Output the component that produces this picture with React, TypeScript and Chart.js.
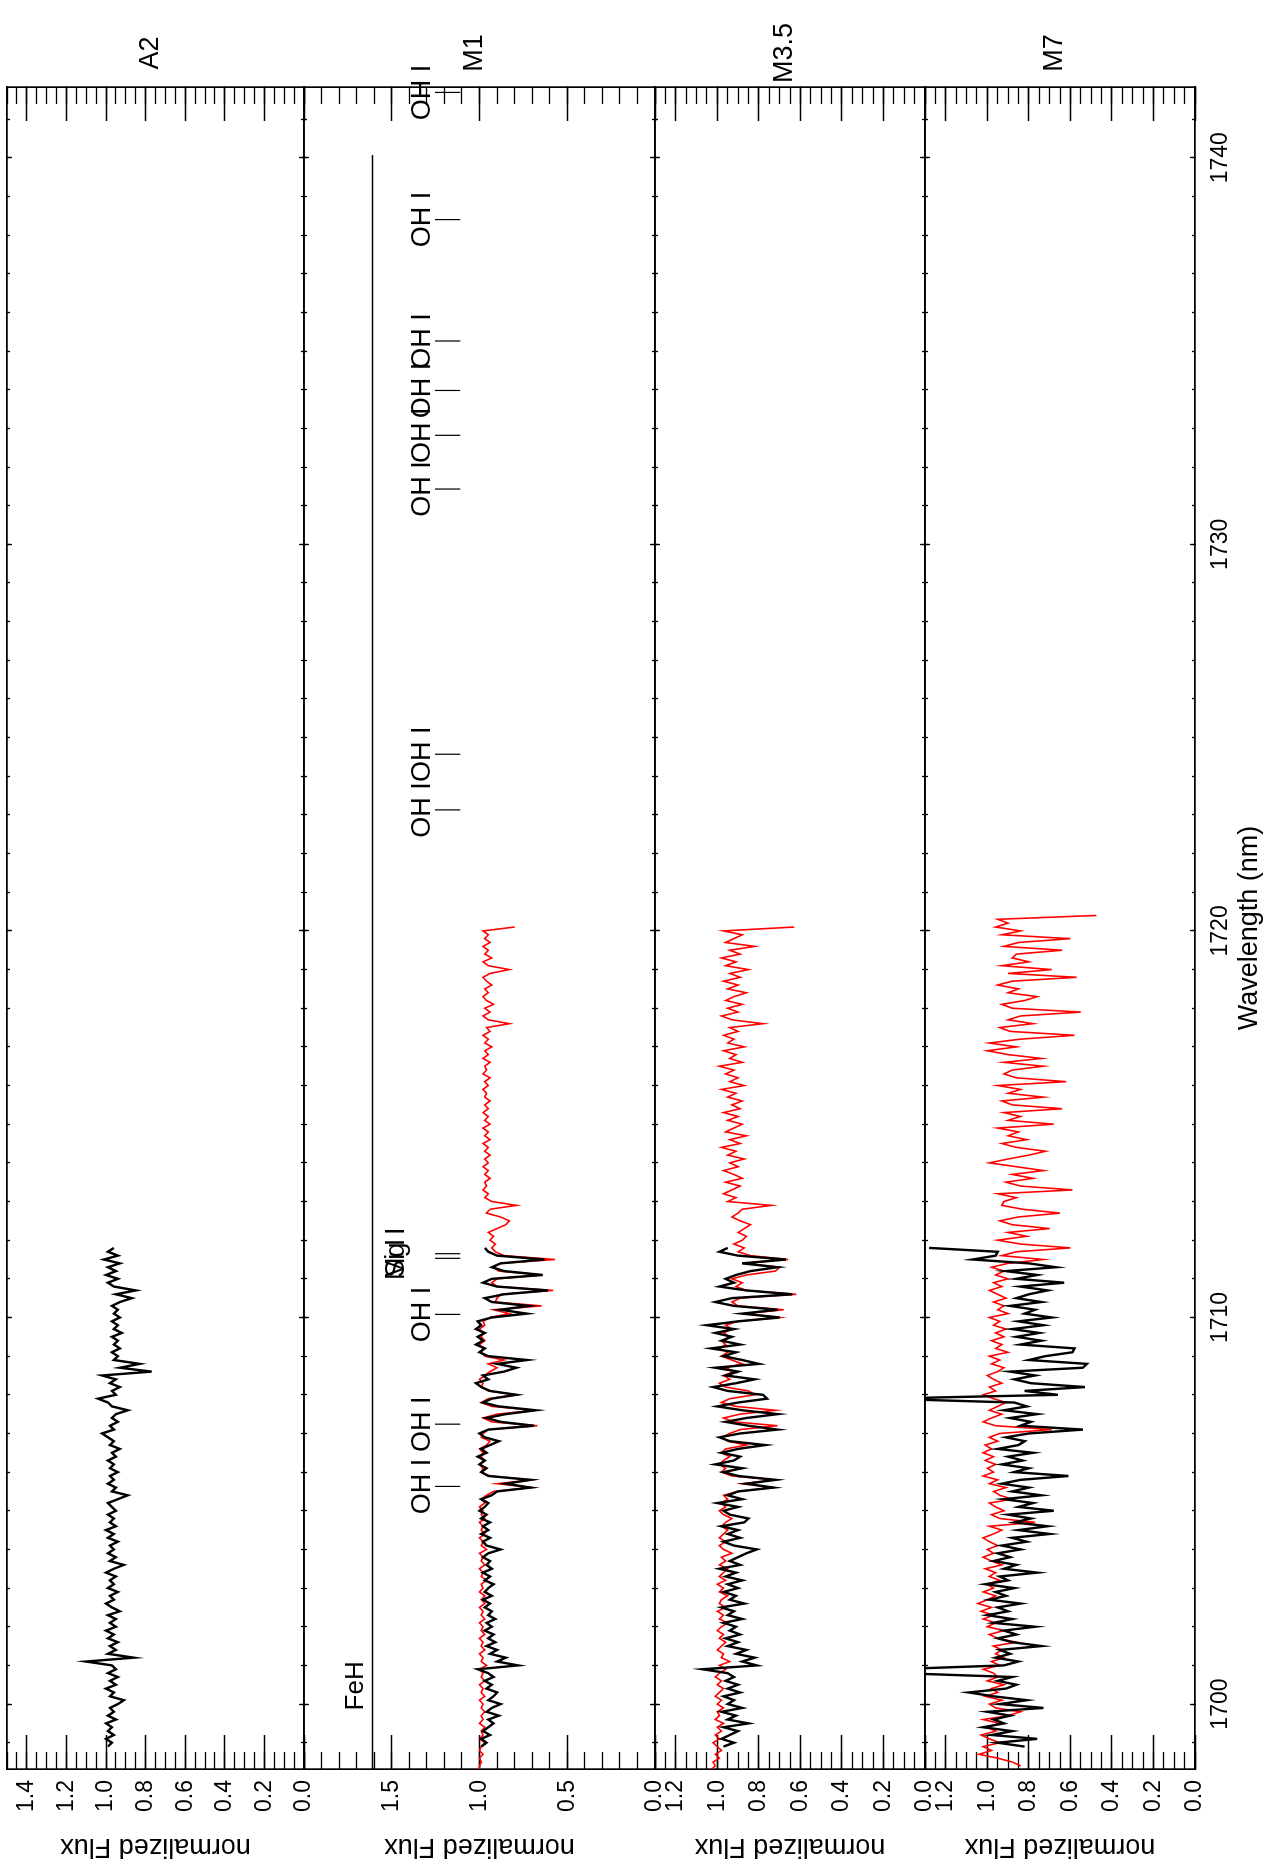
import React, { useEffect, useRef } from 'react';
import { Chart, registerables } from 'chart.js';

Chart.register(...registerables);

const FONT = "'Liberation Sans', Arial, Helvetica, sans-serif";
Chart.defaults.font.family = FONT;
Chart.defaults.color = '#000';

// ---------- axes ----------
const WL_MIN = 1698.32;
const WL_MAX = 1741.83;
const WL_MAJOR = [1700, 1710, 1720, 1730, 1740];
const A2_TICKS = [0, 0.2, 0.4, 0.6, 0.8, 1.0, 1.2, 1.4];
const M1_TICKS = [0, 0.5, 1.0, 1.5];
const M_TICKS = [0, 0.2, 0.4, 0.6, 0.8, 1.0, 1.2];

// ---------- spectra (0.1 nm sampling) ----------
const STEP = 0.1;
const OBS_START = 1698.9;
const MODEL_START = 1698.3;
const M7_MODEL_START = 1698.4;

const A2_OBS = [
  0.99, 0.97, 1.00, 0.96, 0.99, 0.97, 1.00, 0.95, 0.99, 0.96,
  0.98, 0.94, 0.91, 0.98, 0.96, 1.00, 0.95, 0.98, 0.94, 0.99,
  0.95, 0.97, 1.10, 0.86, 0.99, 0.95, 0.98, 0.94, 0.99, 0.96,
  1.00, 0.95, 0.98, 0.95, 0.99, 0.93, 0.97, 1.00, 0.96, 0.98,
  0.94, 0.99, 0.96, 0.98, 0.95, 1.00, 0.96, 0.91, 0.98, 0.95,
  0.99, 0.96, 0.98, 0.94, 0.99, 0.96, 1.00, 0.95, 0.98, 0.96,
  0.99, 0.95, 0.97, 0.99, 0.94, 0.89, 0.97, 0.95, 0.99, 0.96,
  0.98, 0.94, 0.98, 0.96, 0.99, 0.95, 0.97, 0.93, 0.98, 0.96,
  0.99, 1.02, 0.96, 0.98, 0.94, 0.97, 0.95, 0.89, 0.97, 0.99,
  1.04, 0.95, 0.97, 0.93, 0.98, 0.95, 1.02, 0.77, 0.93, 0.83,
  0.96, 0.94, 0.97, 0.93, 0.96, 0.94, 0.97, 0.92, 0.96, 0.94,
  0.97, 0.93, 0.96, 0.94, 0.97, 0.93, 0.87, 0.95, 0.85, 0.96,
  0.99, 0.94, 1.00, 0.95, 0.99, 0.93, 1.01, 0.94, 0.99, 0.96,
];

const M1_OBS = [
  0.99, 0.96, 0.99, 0.94, 0.98, 0.95, 0.92, 0.95, 0.89, 0.96,
  0.93, 0.88, 0.95, 0.92, 0.90, 0.96, 0.93, 0.97, 0.92, 0.95,
  1.01, 0.78, 0.90, 0.85, 0.94, 0.90, 0.96, 0.91, 0.95, 0.92,
  0.97, 0.93, 0.96, 0.91, 0.95, 0.93, 0.97, 0.94, 0.98, 0.93,
  0.97, 0.95, 0.92, 0.97, 0.94, 0.98, 0.93, 0.96, 0.94, 0.98,
  0.95, 0.88, 0.96, 0.98, 0.94, 0.99, 0.95, 0.98, 0.94, 0.99,
  0.96, 1.00, 0.97, 0.95, 0.99, 0.93, 0.90, 0.71, 0.85, 0.71,
  0.95, 0.99, 0.96, 1.00, 0.97, 1.01, 0.96, 0.99, 0.94, 0.89,
  0.97, 1.00, 0.95, 0.69, 0.88, 0.96, 0.85, 0.68, 0.89, 0.98,
  0.93, 0.79, 0.94, 0.99, 1.02, 0.95, 0.98, 0.86, 0.79, 0.90,
  0.73, 0.95, 1.00, 0.97, 1.02, 0.98, 1.01, 0.97, 1.02, 0.99,
  1.01, 0.93, 0.73, 0.88, 0.72, 0.93, 0.97, 0.86, 0.61, 0.90,
  0.98, 0.93, 0.64, 0.86, 0.93, 0.88, 0.63, 0.90, 0.95, 0.97,
];

const M1_MODEL = [
  1.00, 1.00, 0.99, 1.00, 0.98, 1.00, 0.99, 0.97, 1.00, 0.98,
  0.99, 0.97, 1.00, 0.98, 0.99, 0.97, 0.99, 0.98, 1.00, 0.97,
  0.99, 0.98, 1.00, 0.97, 0.99, 0.98, 1.00, 0.96, 0.99, 0.98,
  1.00, 0.97, 0.99, 0.98, 1.00, 0.97, 0.99, 0.98, 1.00, 0.97,
  0.99, 0.98, 1.00, 0.97, 0.99, 0.97, 1.00, 0.98, 0.99, 0.96,
  0.99, 0.98, 1.00, 0.97, 0.99, 0.98, 1.00, 0.96, 0.99, 0.98,
  1.00, 0.97, 0.99, 0.98, 1.00, 0.97, 0.99, 0.98, 1.00, 0.97,
  0.99, 0.96, 0.92, 0.70, 0.90, 0.70, 0.94, 0.99, 0.98, 1.00,
  0.97, 0.99, 0.98, 1.00, 0.96, 0.94, 0.99, 0.98, 0.95, 0.67,
  0.93, 0.98, 0.90, 0.68, 0.93, 0.99, 0.95, 0.79, 0.95, 0.99,
  0.98, 1.00, 0.97, 0.94, 0.90, 0.95, 0.86, 0.97, 0.99, 0.98,
  1.00, 0.97, 0.99, 0.98, 1.00, 0.97, 0.98, 0.94, 0.83, 0.92,
  0.645, 0.91, 0.90, 0.88, 0.58, 0.90, 0.93, 0.90, 0.64, 0.89,
  0.92, 0.88, 0.57, 0.86, 0.91, 0.93, 0.91, 0.94, 0.92, 0.95,
  0.90, 0.85, 0.83, 0.88, 0.96, 0.94, 0.79, 0.93, 0.97, 0.95,
  0.98, 0.96, 0.97, 0.94, 0.97, 0.95, 0.98, 0.95, 0.97, 0.94,
  0.97, 0.95, 0.98, 0.94, 0.97, 0.95, 0.98, 0.94, 0.97, 0.95,
  0.98, 0.95, 0.97, 0.94, 0.97, 0.96, 0.98, 0.95, 0.97, 0.94,
  0.98, 0.96, 0.97, 0.94, 0.98, 0.95, 0.97, 0.93, 0.97, 0.95,
  0.98, 0.94, 0.96, 0.83, 0.95, 0.98, 0.94, 0.97, 0.92, 0.96,
  0.98, 0.95, 0.97, 0.93, 0.96, 0.98, 0.94, 0.83, 0.95, 0.98,
  0.93, 0.97, 0.95, 0.98, 0.94, 0.97, 0.95, 0.98, 0.80,
];

const M35_OBS = [
  0.97, 0.92, 0.98, 0.94, 0.90, 0.97, 0.85, 0.95, 0.91, 0.98,
  0.88, 0.95, 0.92, 0.97, 0.89, 0.95, 0.90, 0.96, 0.92, 0.95,
  1.07, 0.81, 0.88, 0.82, 0.91, 0.86, 0.95, 0.90, 0.96, 0.89,
  0.94, 0.91, 0.97, 0.88, 0.95, 0.92, 0.98, 0.87, 0.94, 0.91,
  0.97, 0.90, 0.95, 0.88, 0.96, 0.91, 0.99, 0.89, 0.94, 0.90,
  0.86, 0.81, 0.92, 0.97, 0.89, 0.95, 0.90, 0.98, 0.87, 0.85,
  0.94, 0.97, 0.90, 1.00, 0.88, 0.95, 0.90, 0.73, 0.86, 0.72,
  0.90, 0.97, 0.88, 1.01, 0.92, 0.89, 0.98, 0.90, 0.77, 0.94,
  0.99, 0.89, 0.71, 0.85, 0.96, 0.86, 0.71, 0.88, 1.00, 0.90,
  0.76, 0.78, 0.95, 1.02, 0.91, 0.82, 0.96, 0.90, 1.01, 0.80,
  0.88, 0.97, 0.91, 1.03, 0.89, 0.98, 0.93, 1.01, 0.92, 1.05,
  0.90, 0.70, 0.88, 0.71, 0.92, 1.01, 0.93, 0.64, 0.86, 0.99,
  0.92, 0.96, 0.91, 0.84, 0.71, 0.88, 0.67, 0.90, 0.99, 0.95,
];

const M35_MODEL = [
  1.03, 1.01, 1.02, 0.99, 1.01, 0.98, 1.00, 1.02, 0.99, 1.01,
  0.98, 1.00, 0.97, 1.01, 0.99, 1.00, 0.97, 1.00, 0.98, 1.01,
  0.99, 0.97, 1.00, 0.98, 1.01, 0.99, 0.96, 0.99, 0.94, 0.98,
  0.97, 1.00, 0.98, 0.96, 0.99, 0.97, 1.00, 0.98, 0.95, 0.99,
  0.97, 1.00, 0.96, 0.99, 0.98, 0.95, 0.99, 0.97, 1.00, 0.96,
  0.99, 0.97, 0.95, 0.99, 0.96, 0.98, 0.93, 0.97, 0.99, 0.96,
  0.99, 0.97, 0.95, 0.98, 0.96, 0.93, 0.97, 0.99, 0.96, 0.98,
  0.95, 0.97, 0.90, 0.73, 0.88, 0.72, 0.93, 0.98, 0.96, 0.99,
  0.97, 0.94, 0.98, 0.96, 0.86, 0.95, 0.98, 0.94, 0.89, 0.71,
  0.92, 0.97, 0.89, 0.72, 0.91, 0.98, 0.94, 0.82, 0.85, 0.96,
  0.99, 0.94, 0.97, 0.92, 0.96, 0.88, 0.93, 0.98, 0.95, 0.99,
  0.96, 0.98, 0.94, 0.97, 0.93, 0.96, 0.90, 0.70, 0.87, 0.68,
  0.90, 0.93, 0.89, 0.62, 0.86, 0.91, 0.88, 0.93, 0.86, 0.72,
  0.70, 0.87, 0.66, 0.84, 0.90, 0.87, 0.92, 0.88, 0.86, 0.90,
  0.87, 0.84, 0.89, 0.93, 0.90, 0.88, 0.74, 0.95, 0.91, 0.97,
  0.93, 0.89, 0.96, 0.88, 0.92, 0.97, 0.90, 0.94, 0.87, 0.95,
  0.91, 0.98, 0.89, 0.94, 0.86, 0.96, 0.92, 0.88, 0.95, 0.90,
  0.97, 0.89, 0.93, 0.88, 0.95, 0.91, 0.98, 0.87, 0.94, 0.90,
  0.96, 0.92, 0.99, 0.88, 0.94, 0.91, 0.97, 0.87, 0.95, 0.92,
  0.97, 0.90, 0.94, 0.78, 0.93, 0.98, 0.90, 0.95, 0.88, 0.96,
  0.92, 0.86, 0.95, 0.90, 0.97, 0.89, 0.94, 0.85, 0.96, 0.91,
  0.98, 0.89, 0.94, 0.82, 0.96, 0.92, 0.88, 0.97, 0.63,
];

const M7_OBS = [
  0.82, 0.95, 0.76, 0.98, 0.88, 1.02, 0.92, 0.97, 0.89, 1.00,
  0.73, 0.94, 0.81, 0.97, 1.09, 0.91, 0.86, 0.95, 0.88, 1.42,
  1.45, 0.92, 0.85, 0.96, 0.89, 0.94, 0.74, 0.88, 0.95, 0.86,
  0.92, 0.77, 0.97, 0.88, 1.00, 0.90, 0.95, 0.84, 0.99, 0.91,
  0.96, 0.87, 1.01, 0.90, 0.94, 0.76, 0.92, 0.86, 0.97, 0.89,
  0.95, 0.84, 0.93, 0.81, 0.88, 0.70, 0.85, 0.71, 0.87, 0.79,
  0.90, 0.68, 0.85, 0.78, 0.92, 0.74, 0.88, 0.80, 0.93, 0.84,
  0.61, 0.87, 0.80, 0.93, 0.83, 0.90, 0.78, 0.95, 0.85, 0.82,
  0.91, 0.80, 0.54, 0.84, 0.79, 0.89, 0.76, 0.92, 0.81, 0.87,
  1.50, 0.66, 0.82, 0.53, 0.79, 0.87, 0.77, 0.89, 0.54, 0.52,
  0.80, 0.72, 0.59, 0.58, 0.84, 0.74, 0.86, 0.75, 0.88, 0.73,
  0.85, 0.69, 0.82, 0.77, 0.89, 0.74, 0.86, 0.80, 0.71, 0.84,
  0.63, 0.86, 0.76, 0.91, 0.67, 0.80, 1.07, 0.96, 0.95, 1.28,
];

const M7_MODEL = [
  0.84, 0.88, 0.95, 1.04, 0.98, 1.02, 0.94, 0.99, 1.03, 0.96,
  1.00, 0.94, 1.02, 0.90, 0.84, 0.96, 0.99, 0.93, 1.01, 0.95,
  0.98, 0.92, 1.00, 0.95, 0.97, 1.02, 0.94, 0.98, 0.92, 0.96,
  0.93, 0.97, 0.86, 0.95, 0.99, 0.92, 1.00, 0.96, 1.02, 0.97,
  1.03, 0.98, 1.045, 1.00, 0.96, 1.02, 0.97, 1.00, 0.94, 0.99,
  0.96, 1.01, 0.93, 0.98, 1.02, 0.97, 1.00, 0.95, 0.99, 1.02,
  0.97, 0.93, 0.99, 0.77, 0.94, 0.98, 0.92, 0.96, 0.99, 0.88,
  0.94, 0.97, 0.91, 0.99, 0.95, 1.02, 0.97, 1.00, 0.96, 1.01,
  0.97, 1.02, 0.98, 1.01, 0.95, 0.99, 0.94, 0.69, 0.96, 1.02,
  0.98, 0.93, 0.99, 0.95, 0.91, 0.97, 1.02, 0.96, 0.99, 0.93,
  0.97, 1.00, 0.95, 0.92, 0.98, 0.94, 0.99, 0.90, 0.96, 0.93,
  0.98, 0.92, 0.96, 0.91, 0.97, 0.94, 0.99, 0.90, 0.95, 0.92,
  0.97, 0.91, 0.95, 0.99, 0.93, 0.97, 0.90, 0.96, 0.92, 0.98,
  0.90, 0.73, 0.93, 0.86, 0.60, 0.84, 0.95, 0.81, 0.90, 0.70,
  0.88, 0.94, 0.85, 0.65, 0.83, 0.93, 0.92, 0.86, 0.95, 0.59,
  0.84, 0.91, 0.78, 0.88, 0.73, 0.86, 0.99, 0.90, 0.80, 0.72,
  0.86, 0.93, 0.81, 0.90, 0.85, 0.95, 0.68, 0.90, 0.84, 0.92,
  0.64, 0.88, 0.93, 0.73, 0.90, 0.84, 0.95, 0.62, 0.86, 0.92,
  0.88, 0.73, 0.92, 0.74, 0.90, 1.00, 0.86, 0.99, 0.84, 0.58,
  0.89, 0.94, 0.78, 0.90, 0.84, 0.55, 0.88, 0.93, 0.82, 0.76,
  0.90, 0.85, 0.95, 0.88, 0.57, 0.90, 0.69, 0.93, 0.80, 0.88,
  0.86, 0.64, 0.92, 0.85, 0.60, 0.93, 0.84, 0.96, 0.90, 0.95,
  0.475,
];

// ---------- line identifications (M1 panel) ----------
const OH_LINES = [1705.63, 1707.24, 1710.08, 1723.13, 1724.57, 1731.43, 1732.82, 1733.98, 1735.26, 1738.4, 1741.69];
const MG_LINES = [1711.53, 1711.65];
const MG_LABELS = ['Si I', 'Mg I'];
const MARK_LO = 1.11;
const MARK_HI = 1.254;
const OH_LABEL_FLUX = 1.282;
const MG_LABEL_FLUX = 1.43;
const FEH_FLUX = 1.61;
const FEH_RANGE = [1697.0, 1740.07];
const FEH_LABEL = { wl: 1700.47, flux: 1.664 };

// ---------- helpers ----------
function series(start: number, values: number[]) {
  return values.map((v, i) => ({ x: Math.round((start + i * STEP) * 100) / 100, y: v }));
}
function minorTicks(max: number, step: number) {
  const out: number[] = [];
  const n = Math.round(max / step);
  for (let i = 0; i <= n; i++) out.push(Math.round(i * step * 1000) / 1000);
  return out;
}
const WL_MINOR: number[] = [];
for (let w = 1699; w <= 1741; w++) WL_MINOR.push(w);

const setTicks = (vals: number[]) => (s: any) => {
  s.ticks = vals.map((v) => ({ value: v }));
};
const fixW = (w: number) => (s: any) => {
  s.width = w;
  s.paddingTop = 0; s.paddingBottom = 0; s.paddingLeft = 0; s.paddingRight = 0;
};
const fixH = (h: number) => (s: any) => {
  s.height = h;
  s.paddingTop = 0; s.paddingBottom = 0; s.paddingLeft = 0; s.paddingRight = 0;
};
const grid = (len: number) => ({
  display: true, drawOnChartArea: false, drawTicks: true,
  tickLength: len, tickWidth: 1.3, tickColor: '#000', color: '#000',
});
const BORDER = { display: true, color: '#000', width: 1.7 };
const NOBORDER = { display: false };
const TICK_FONT = { family: FONT, size: 23 };
const TITLE_FONT = { family: FONT, size: 27 };

const MARGIN = 24;
const LAND_W = 1865;
const LAND_H = 1274;
const LEFT_W = 96;
const RIGHT_PAD = 87;

type Panel = {
  name: string; top: number; bottom: number; yMax: number;
  major: number[]; minorStep: number; datasets: any[]; labels: any[]; bottomAxis: boolean;
};

const markerPts: any[] = [];
[...OH_LINES, ...MG_LINES].forEach((wl) => {
  markerPts.push({ x: wl, y: MARK_LO }, { x: wl, y: MARK_HI }, { x: wl, y: null });
});

const line = (data: any[], color: string, width: number) => ({
  data, borderColor: color, borderWidth: width, pointRadius: 0, tension: 0,
  fill: false, xAxisID: 'x', yAxisID: 'y', spanGaps: false,
});

const M1_LABELS = [
  ...OH_LINES.map((wl) => ({ text: 'OH I', wl, flux: OH_LABEL_FLUX, size: 27 })),
  ...MG_LINES.map((wl, i) => ({ text: MG_LABELS[i], wl, flux: MG_LABEL_FLUX, size: 27 })),
  { text: 'FeH', wl: FEH_LABEL.wl, flux: FEH_LABEL.flux, size: 26 },
];

const OBS_W = 2.4;
const MODEL_W = 1.6;

const PANELS: Panel[] = [
  {
    name: 'A2', top: 7, bottom: 304, yMax: 1.5, major: A2_TICKS, minorStep: 0.05,
    datasets: [line(series(OBS_START, A2_OBS), '#000', OBS_W)], labels: [], bottomAxis: false,
  },
  {
    name: 'M1', top: 304, bottom: 655, yMax: 2.0, major: M1_TICKS, minorStep: 0.1,
    datasets: [
      line(series(OBS_START, M1_OBS), '#000', OBS_W),
      line(series(MODEL_START, M1_MODEL), '#ff0000', MODEL_W),
      line(markerPts, '#000', 1.2),
      line(FEH_RANGE.map((x) => ({ x, y: FEH_FLUX })), '#000', 1.4),
    ],
    labels: M1_LABELS, bottomAxis: false,
  },
  {
    name: 'M3.5', top: 655, bottom: 925, yMax: 1.3, major: M_TICKS, minorStep: 0.05,
    datasets: [
      line(series(OBS_START, M35_OBS), '#000', OBS_W),
      line(series(MODEL_START, M35_MODEL), '#ff0000', MODEL_W),
    ],
    labels: [], bottomAxis: false,
  },
  {
    name: 'M7', top: 925, bottom: 1195, yMax: 1.3, major: M_TICKS, minorStep: 0.05,
    datasets: [
      line(series(OBS_START, M7_OBS), '#000', OBS_W),
      line(series(M7_MODEL_START, M7_MODEL), '#ff0000', MODEL_W),
    ],
    labels: [], bottomAxis: true,
  },
];

const textPlugin = {
  id: 'panelText',
  afterDraw(chart: any, _args: any, opts: any) {
    const { ctx, chartArea, scales } = chart;
    ctx.save();
    ctx.fillStyle = '#000';
    ctx.textAlign = 'center';
    ctx.textBaseline = 'alphabetic';
    ctx.font = `27px ${FONT}`;
    ctx.fillText(opts.name, chartArea.right + 34, (chartArea.top + chartArea.bottom) / 2 + 2);
    for (const lab of opts.labels || []) {
      ctx.font = `${lab.size}px ${FONT}`;
      ctx.fillText(lab.text, scales.x.getPixelForValue(lab.wl), scales.y.getPixelForValue(lab.flux));
    }
    ctx.restore();
  },
};

function canvasBox(p: Panel) {
  const top = p.top - MARGIN;
  const height = p.bottomAxis ? LAND_H - top : p.bottom - p.top + 2 * MARGIN;
  return { top, height };
}

function buildConfig(p: Panel): any {
  const bottomH = p.bottomAxis ? LAND_H - p.bottom : MARGIN;
  const minor = minorTicks(p.yMax, p.minorStep);
  const fmtFlux = (v: any) => Number(v).toFixed(1);
  return {
    type: 'line',
    data: { datasets: p.datasets },
    options: {
      responsive: false,
      animation: false,
      devicePixelRatio: 1,
      events: [],
      layout: { padding: { left: 0, right: RIGHT_PAD, top: 0, bottom: 0 } },
      plugins: {
        legend: { display: false },
        tooltip: { enabled: false },
        panelText: { name: p.name, labels: p.labels },
      },
      scales: {
        x: {
          type: 'linear', position: 'bottom', weight: 1, min: WL_MIN, max: WL_MAX,
          afterBuildTicks: setTicks(WL_MAJOR), afterFit: fixH(bottomH),
          grid: grid(-5), border: BORDER,
          ticks: {
            display: p.bottomAxis, font: TICK_FONT, color: '#000', padding: 17,
            maxRotation: 0, minRotation: 0, autoSkip: false,
            callback: (v: any) => String(Math.round(Number(v))),
          },
          title: {
            display: p.bottomAxis, text: 'Wavelength (nm)', font: TITLE_FONT, color: '#000',
            padding: { top: 0, bottom: 8 },
          },
        },
        xMinor: {
          type: 'linear', position: 'bottom', weight: 0, min: WL_MIN, max: WL_MAX,
          afterBuildTicks: setTicks(WL_MINOR), afterFit: fixH(0),
          grid: grid(-3), border: NOBORDER, ticks: { display: false, autoSkip: false },
        },
        xTop: {
          type: 'linear', position: 'top', weight: 1, min: WL_MIN, max: WL_MAX,
          afterBuildTicks: setTicks(WL_MAJOR), afterFit: fixH(MARGIN),
          grid: grid(-5), border: BORDER, ticks: { display: false, autoSkip: false },
        },
        xTopMinor: {
          type: 'linear', position: 'top', weight: 0, min: WL_MIN, max: WL_MAX,
          afterBuildTicks: setTicks(WL_MINOR), afterFit: fixH(0),
          grid: grid(-3), border: NOBORDER, ticks: { display: false, autoSkip: false },
        },
        y: {
          type: 'linear', position: 'left', weight: 1, min: 0, max: p.yMax,
          afterBuildTicks: setTicks(p.major), afterFit: fixW(LEFT_W),
          grid: grid(-34), border: BORDER,
          ticks: {
            display: true, font: TICK_FONT, color: '#000', padding: 45, autoSkip: false,
            callback: fmtFlux,
          },
          title: {
            display: true, text: 'normalized Flux', font: TITLE_FONT, color: '#000',
            padding: { top: 2, bottom: 0 },
          },
        },
        yMinor: {
          type: 'linear', position: 'left', weight: 0, min: 0, max: p.yMax,
          afterBuildTicks: setTicks(minor), afterFit: fixW(0),
          grid: grid(-17), border: NOBORDER, ticks: { display: false, autoSkip: false },
        },
        y2: {
          type: 'linear', position: 'right', weight: 0, min: 0, max: p.yMax,
          afterBuildTicks: setTicks(p.major), afterFit: fixW(0),
          grid: grid(-34), border: BORDER, ticks: { display: false, autoSkip: false },
        },
        y2Minor: {
          type: 'linear', position: 'right', weight: 1, min: 0, max: p.yMax,
          afterBuildTicks: setTicks(minor), afterFit: fixW(0),
          grid: grid(-17), border: NOBORDER, ticks: { display: false, autoSkip: false },
        },
      },
    },
    plugins: [textPlugin],
  };
}

export default function App() {
  const refs = useRef<(HTMLCanvasElement | null)[]>([]);
  useEffect(() => {
    const charts = PANELS.map((p, i) => new Chart(refs.current[i] as HTMLCanvasElement, buildConfig(p)));
    return () => charts.forEach((c) => c.destroy());
  }, []);
  return (
    <div style={{ position: 'fixed', left: 0, top: 0, width: 1274, height: 1865, overflow: 'hidden', background: '#fff' }}>
      <div
        style={{
          position: 'absolute', left: 0, top: 0, width: LAND_W, height: LAND_H,
          transformOrigin: '0 0', transform: `translateY(${LAND_W}px) rotate(-90deg)`,
        }}
      >
        {PANELS.map((p, i) => {
          const box = canvasBox(p);
          return (
            <canvas
              key={p.name}
              ref={(el) => { refs.current[i] = el; }}
              width={LAND_W}
              height={box.height}
              style={{ position: 'absolute', left: 0, top: box.top, width: LAND_W, height: box.height }}
            />
          );
        })}
      </div>
    </div>
  );
}
